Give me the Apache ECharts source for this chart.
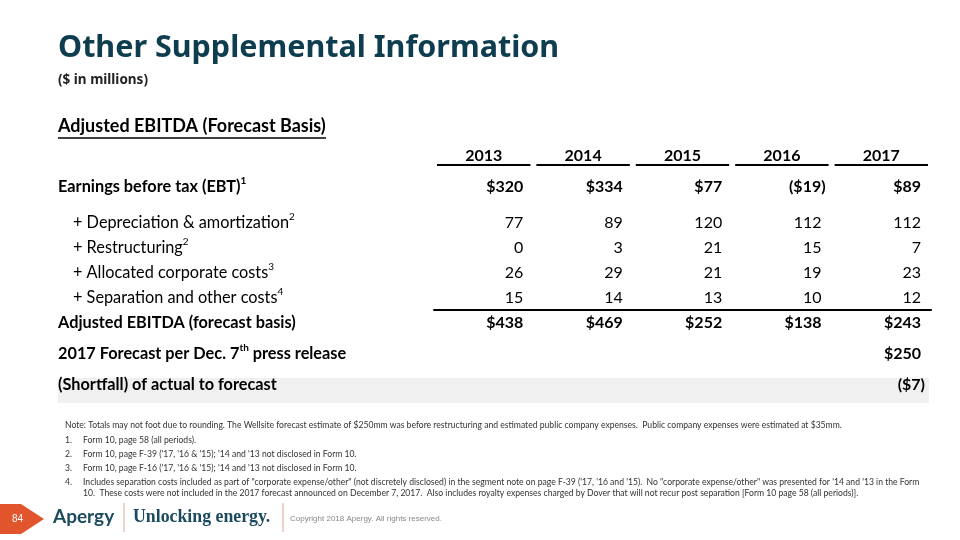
<!DOCTYPE html>
<html><head><meta charset="utf-8">
<script src="https://cdn.jsdelivr.net/npm/echarts@6/dist/echarts.min.js"></script>
<style>html,body{margin:0;padding:0;background:#fff}#c{width:960px;height:540px}</style>
</head><body><div id="c"></div>
<script>
// ---------- data ----------
const years = ['2013', '2014', '2015', '2016', '2017'];
const ebtLabels = ['Earnings before tax (EBT)'];
const ebtNotes = ['1'];
const ebt = [320, 334, 77, -19, 89];
const addLabels = ['Depreciation & amortization', 'Restructuring', 'Allocated corporate costs', 'Separation and other costs'];
const addNotes = ['2', '2', '3', '4'];
const depreciation = [77, 89, 120, 112, 112];
const restructuring = [0, 3, 21, 15, 7];
const allocatedCorporate = [26, 29, 21, 19, 23];
const separationOther = [15, 14, 13, 10, 12];
const totalLabels = ['Adjusted EBITDA (forecast basis)', '2017 Forecast per Dec. 7th press release', '(Shortfall) of actual to forecast'];
const adjustedEbitda = [438, 469, 252, 138, 243];
const forecast2017 = [null, null, null, null, 250];
const shortfall = [null, null, null, null, -7];
const titleText = 'Other Supplemental Information';
const subtitleText = '($ in millions)';
const tableTitle = 'Adjusted EBITDA (Forecast Basis)';
const noteText = 'Note: Totals may not foot due to rounding. The Wellsite forecast estimate of $250mm was before restructuring and estimated public company expenses.  Public company expenses were estimated at $35mm.';
const footnoteNums = ['1.', '2.', '3.', '4.'];
const footnoteLines = [
  ['Form 10, page 58 (all periods).'],
  ["Form 10, page F-39 ('17, '16 & '15); '14 and '13 not disclosed in Form 10."],
  ["Form 10, page F-16 ('17, '16 & '15); '14 and '13 not disclosed in Form 10."],
  ['Includes separation costs included as part of "corporate expense/other" (not discretely disclosed) in the segment note on page F-39 (\'17, \'16 and \'15).  No "corporate expense/other" was presented for \'14 and \'13 in the Form',
   '10.  These costs were not included in the 2017 forecast announced on December 7, 2017.  Also includes royalty expenses charged by Dover that will not recur post separation [Form 10 page 58 (all periods)].']
];
const pageNumber = '84';
const logoText = 'Apergy';
const taglineText = 'Unlocking energy.';
const copyrightText = 'Copyright 2018 Apergy. All rights reserved.';

// ---------- helpers ----------
const FONT = 'Lato';
const money = v => v < 0 ? '($' + (-v) + ')' : '$' + v;
const plain = v => v < 0 ? '(' + (-v) + ')' : String(v);

function cells(rows, fmt) {
  const out = [];
  rows.forEach((row, r) => row.forEach((v, c) => { if (v !== null) out.push([c, r, fmt(v)]); }));
  return out;
}
function textSeries(gridIdx, list, bold) {
  return {
    type: 'custom', xAxisIndex: gridIdx, yAxisIndex: gridIdx, z: 5,
    data: list.map(d => [d[0], d[1]]),
    renderItem: function (params, api) {
      const cell = list[params.dataIndex];
      const p = api.coord([cell[0], cell[1]]);
      const s = api.size([1, 1]);
      const neg = cell[2].charAt(cell[2].length - 1) === ')';
      return {
        type: 'text', x: p[0] + s[0] / 2 - (neg ? 6 : 10), y: p[1],
        style: { text: cell[2], align: 'right', verticalAlign: 'middle',
          font: (bold ? 'bold ' : '') + '16px ' + FONT, fill: '#000' }
      };
    }
  };
}
const rich = {
  b: { fontFamily: FONT, fontWeight: 'bold', fontSize: 16.3, color: '#000', lineHeight: 22 },
  r: { fontFamily: FONT, fontSize: 16.3, color: '#000', lineHeight: 22, padding: [0, 0, 0, 15] },
  sup: { fontFamily: FONT, fontWeight: 'bold', fontSize: 10, color: '#000', verticalAlign: 'top' },
  supr: { fontFamily: FONT, fontSize: 10, color: '#000', verticalAlign: 'top' }
};
function yAxis(gridIdx, labels, fmt) {
  return {
    type: 'category', gridIndex: gridIdx, data: labels, inverse: true,
    axisLine: { show: false }, axisTick: { show: false }, splitLine: { show: false },
    axisLabel: { align: 'left', margin: 376, formatter: fmt, rich: rich }
  };
}
function xAxis(gridIdx, extra) {
  return Object.assign({
    type: 'category', gridIndex: gridIdx, data: years,
    axisLine: { show: false }, axisTick: { show: false }, splitLine: { show: false },
    axisLabel: { show: false }
  }, extra || {});
}

const chart = echarts.init(document.getElementById('c'), null, { renderer: 'canvas' });
const L = 434, R = 29;

const underlineSeries = {
  type: 'custom', xAxisIndex: 0, yAxisIndex: 0,
  data: years.map((y, i) => [i, 0]),
  renderItem: function (params, api) {
    const p = api.coord([api.value(0), 0]);
    const s = api.size([1, 1]);
    return { type: 'line', shape: { x1: p[0] - s[0] / 2 + 3, y1: p[1] - 22, x2: p[0] + s[0] / 2 - 3, y2: p[1] - 22 },
      style: { stroke: '#000', lineWidth: 2 } };
  }
};

const FN = '8.6px ' + FONT;
const graphic = [
  { type: 'text', left: 58, top: 33, style: { text: titleText, font: 'bold 30.5px "Noto Sans"', fill: '#0e3d4f' } },
  { type: 'text', left: 58, top: 73, style: { text: subtitleText, font: 'bold 13.5px "Noto Sans"', fill: '#222' } },
  { type: 'text', left: 58, top: 117, style: { text: tableTitle, font: 'bold 18px ' + FONT, fill: '#000' } },
  { type: 'line', shape: { x1: 58, y1: 138, x2: 326, y2: 138 }, style: { stroke: '#000', lineWidth: 1.5 } },
  { type: 'rect', z: -10, shape: { x: 58, y: 378, width: 871, height: 25 }, style: { fill: '#f0f0f0' } },
  { type: 'text', left: 65, top: 421, style: { text: noteText, font: FN, fill: '#333' } },
  // footer
  { type: 'polygon', shape: { points: [[0, 504], [21, 504], [44, 519], [21, 534], [0, 534]] }, style: { fill: '#e2542b' } },
  { type: 'text', left: 12, top: 514, style: { text: pageNumber, font: '10px "Liberation Sans"', fill: '#fff' } },
  { type: 'text', left: 53, top: 507, style: { text: logoText, font: 'bold 19px ' + FONT, fill: '#1c4b5f' } },
  { type: 'line', shape: { x1: 124, y1: 503, x2: 124, y2: 532 }, style: { stroke: '#d9a796', lineWidth: 1 } },
  { type: 'text', left: 133, top: 508, style: { text: taglineText, font: 'bold 17.8px "Liberation Serif"', fill: '#1c4b5f' } },
  { type: 'line', shape: { x1: 283, y1: 503, x2: 283, y2: 532 }, style: { stroke: '#d9a796', lineWidth: 1 } },
  { type: 'text', left: 290, top: 515, style: { text: copyrightText, font: '8px "Liberation Sans"', fill: '#888' } }
];
const fnTops = [436, 450, 464, 478];
footnoteNums.forEach((n, i) => {
  graphic.push({ type: 'text', left: 65, top: fnTops[i], style: { text: n, font: FN, fill: '#333' } });
  footnoteLines[i].forEach((line, j) => {
    graphic.push({ type: 'text', left: 83, top: fnTops[i] + j * 11, style: { text: line, font: FN, fill: '#333' } });
  });
});

chart.setOption({
  backgroundColor: '#fff',
  animation: false,
  grid: [
    { left: L, right: R, top: 172, height: 30 },
    { left: L, right: R, top: 210, height: 100 },
    { left: L, right: R, top: 307.5, height: 93 }
  ],
  xAxis: [
    xAxis(0, { position: 'top', axisLabel: { show: true, margin: 8, fontFamily: FONT, fontWeight: 'bold', fontSize: 16, color: '#000' } }),
    xAxis(1, { position: 'bottom', axisLine: { show: true, lineStyle: { color: '#000', width: 2 } } }),
    xAxis(2)
  ],
  yAxis: [
    yAxis(0, ebtLabels, (v, i) => '{b|' + v + '}{sup|' + ebtNotes[i] + '}'),
    yAxis(1, addLabels, (v, i) => '{r|+ ' + v + '}{supr|' + addNotes[i] + '}'),
    yAxis(2, totalLabels, (v) => {
      const m = v.match(/^(.*\d)(th)( .*)$/);
      return m ? '{b|' + m[1] + '}{sup|' + m[2] + '}{b|' + m[3] + '}' : '{b|' + v + '}';
    })
  ],
  series: [
    underlineSeries,
    textSeries(0, cells([ebt], money), true),
    textSeries(1, cells([depreciation, restructuring, allocatedCorporate, separationOther], plain), false),
    textSeries(2, cells([adjustedEbitda, forecast2017, shortfall], money), true)
  ],
  graphic: graphic
});
</script></body></html>
